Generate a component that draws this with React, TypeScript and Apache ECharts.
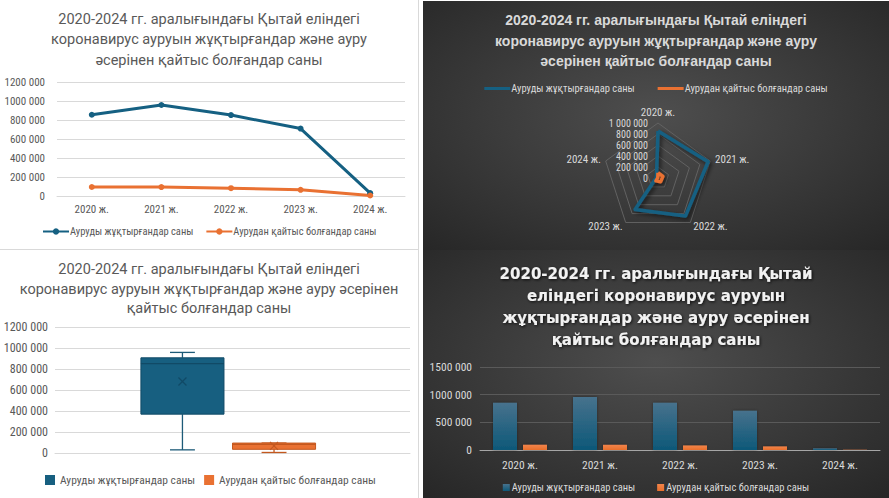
import React, { useEffect, useRef } from 'react';
import * as echarts from 'echarts';

const years = ['2020 ж.', '2021 ж.', '2022 ж.', '2023 ж.', '2024 ж.'];
const infected = [855000, 958000, 852000, 710000, 30000];
const deaths = [95000, 94000, 82000, 65000, 5000];
const nameInf = 'Ауруды жұқтырғандар саны';
const nameDeath = 'Аурудан қайтыс болғандар саны';
const titleA = '2020-2024 гг. аралығындағы Қытай еліндегі\nкоронавирус ауруын жұқтырғандар және ауру\nәсерінен қайтыс болғандар саны';
const titleB = '2020-2024 гг. аралығындағы Қытай еліндегі\nкоронавирус ауруын жұқтырғандар және ауру әсерінен\nқайтыс болғандар саны';
const titleD = '2020-2024 гг. аралығындағы Қытай\nеліндегі коронавирус ауруын\nжұқтырғандар және ауру әсерінен\nқайтыс болғандар саны';

const BLUE = '#156082';
const ORANGE = '#E97132';
const TFONT = 'Roboto, "Noto Sans", sans-serif';
const NFONT = '"Liberation Sans Narrow", "Roboto Condensed", Roboto, sans-serif';

const fmtTight = (v: number) => {
  const s = String(v);
  return s.length > 3 ? s.slice(0, -3) + ' ' + s.slice(-3) : s;
};
const fmtFull = (v: number) => String(v).replace(/\B(?=(\d{3})+(?!\d))/g, ' ');

// Excel exclusive quartiles
function quart(sorted: number[], p: number) {
  const n = sorted.length;
  const pos = p * (n + 1);
  const lo = Math.floor(pos);
  const frac = pos - lo;
  const a = sorted[Math.max(0, Math.min(n - 1, lo - 1))];
  const b = sorted[Math.max(0, Math.min(n - 1, lo))];
  return a + (b - a) * frac;
}
function stats(values: number[]) {
  const s = [...values].sort((a, b) => a - b);
  const mean = s.reduce((a, b) => a + b, 0) / s.length;
  return [s[0], quart(s, 0.25), quart(s, 0.5), quart(s, 0.75), s[s.length - 1], mean];
}

function Chart({ option, style }: { option: any; style: React.CSSProperties }) {
  const ref = useRef<HTMLDivElement>(null);
  useEffect(() => {
    const c = echarts.init(ref.current!, null, { renderer: 'svg' });
    c.setOption(option);
    return () => c.dispose();
  }, []);
  return <div ref={ref} style={{ position: 'absolute', ...style }} />;
}

const lineOption = {
  animation: false,
  backgroundColor: '#ffffff',
  title: {
    text: titleA, left: 'center', top: 4,
    textStyle: { fontFamily: TFONT, fontSize: 14.5, fontWeight: 'normal', color: '#595959', lineHeight: 20.5 },
  },
  grid: { left: 57, right: 13, top: 82, bottom: 53 },
  xAxis: {
    type: 'category', data: years, boundaryGap: true,
    axisLine: { lineStyle: { color: '#d9d9d9' } }, axisTick: { show: false },
    axisLabel: { color: '#595959', fontSize: 11, margin: 8, fontFamily: NFONT },
  },
  yAxis: {
    type: 'value', min: 0, max: 1200000, interval: 200000,
    axisLabel: { color: '#595959', fontSize: 11, margin: 12, formatter: fmtTight, fontFamily: NFONT },
    splitLine: { lineStyle: { color: '#d9d9d9' } },
  },
  legend: {
    left: 42, top: 226, padding: 0, itemGap: 12, itemWidth: 26, itemHeight: 8,
    textStyle: { color: '#595959', fontSize: 10.5, fontFamily: NFONT, padding: [0, 0, 0, -4] },
    data: [nameInf, nameDeath],
  },
  series: [
    { type: 'line', name: nameInf, data: infected, symbol: 'circle', symbolSize: 6, itemStyle: { color: BLUE }, lineStyle: { color: BLUE, width: 3 } },
    { type: 'line', name: nameDeath, data: deaths, symbol: 'circle', symbolSize: 6, itemStyle: { color: ORANGE }, lineStyle: { color: ORANGE, width: 3 } },
  ],
};

const boxSeries = (name: string, values: number[], color: string, border: string, whisker: string, offset: number) => ({
  type: 'custom', name, itemStyle: { color },
  encode: { x: 0, y: [1, 2, 3, 4, 5, 6] },
  data: [[0, ...stats(values)]],
  renderItem: (params: any, api: any) => {
    const band = api.size([1, 0])[0];
    const c = api.coord([api.value(0), 0])[0] + band * offset;
    const w = band * 0.234;
    const cap = w * 0.3;
    const y = (i: number) => api.coord([api.value(0), api.value(i)])[1];
    const yMin = y(1), yQ1 = y(2), yMed = y(3), yQ3 = y(4), yMax = y(5), yMean = y(6);
    const ls = { stroke: whisker, lineWidth: 1.3 };
    const ms = { stroke: border, lineWidth: 1.2 };
    return {
      type: 'group', children: [
        { type: 'line', shape: { x1: c, y1: yMax, x2: c, y2: yQ3 }, style: ls },
        { type: 'line', shape: { x1: c, y1: yQ1, x2: c, y2: yMin }, style: ls },
        { type: 'line', shape: { x1: c - cap / 2, y1: yMax, x2: c + cap / 2, y2: yMax }, style: ls },
        { type: 'line', shape: { x1: c - cap / 2, y1: yMin, x2: c + cap / 2, y2: yMin }, style: ls },
        { type: 'rect', shape: { x: c - w / 2, y: yQ3, width: w, height: yQ1 - yQ3 }, style: { fill: color, stroke: border, lineWidth: 1 } },
        { type: 'line', shape: { x1: c - w / 2, y1: yMed, x2: c + w / 2, y2: yMed }, style: { stroke: border, lineWidth: 1.3 } },
        { type: 'line', shape: { x1: c - 4, y1: yMean - 4, x2: c + 4, y2: yMean + 4 }, style: ms },
        { type: 'line', shape: { x1: c - 4, y1: yMean + 4, x2: c + 4, y2: yMean - 4 }, style: ms },
      ],
    };
  },
});

const boxOption = {
  animation: false,
  backgroundColor: '#ffffff',
  title: {
    text: titleB, left: 'center', top: 5,
    textStyle: { fontFamily: TFONT, fontSize: 14.5, fontWeight: 'normal', color: '#595959', lineHeight: 19.5 },
  },
  grid: { left: 55, right: 8, top: 77, bottom: 45 },
  xAxis: {
    type: 'category', data: [''],
    axisLine: { lineStyle: { color: '#d9d9d9' } }, axisTick: { show: false }, axisLabel: { show: false },
  },
  yAxis: {
    type: 'value', min: 0, max: 1200000, interval: 200000,
    axisLabel: { color: '#595959', fontSize: 12, margin: 7, formatter: fmtTight, fontFamily: NFONT },
    splitLine: { lineStyle: { color: '#d9d9d9' } },
  },
  legend: {
    left: 45, top: 224, padding: 0, itemGap: 9, itemWidth: 10, itemHeight: 10, icon: 'rect',
    textStyle: { color: '#595959', fontSize: 11.5, fontFamily: NFONT },
    data: [nameInf, nameDeath],
  },
  series: [
    boxSeries(nameInf, infected, '#175f80', '#114a66', '#1d5b78', -0.141),
    boxSeries(nameDeath, deaths, ORANGE, '#c3581f', '#c3581f', 0.117),
  ],
};

const darkBg = (w: number, h: number, cy: number) => ([{
  type: 'rect', z: -100, silent: true,
  shape: { x: 0, y: 0, width: w, height: h },
  style: {
    fill: new echarts.graphic.RadialGradient(0.5, cy, 0.75, [
      { offset: 0, color: '#4e4e4e' },
      { offset: 1, color: '#262626' },
    ]),
  },
}]);

const radarOrder = [0, 4, 3, 2, 1];

const radarOption = {
  animation: false,
  graphic: darkBg(466, 250, 0.45),
  title: {
    text: titleA, left: 'center', top: 4,
    textStyle: { fontFamily: '"Liberation Sans", Arial, sans-serif', fontSize: 14, fontWeight: 'bold', color: '#d9d9d9', lineHeight: 20.5 },
  },
  legend: {
    left: 'center', top: 82, padding: 0, itemGap: 23, itemWidth: 26, itemHeight: 3, icon: 'rect',
    textStyle: { color: '#d9d9d9', fontSize: 10.5, fontFamily: NFONT, padding: [0, 0, 0, -4] },
    data: [nameInf, nameDeath],
  },
  radar: {
    center: [235, 177], radius: 55, startAngle: 90, splitNumber: 5,
    indicator: radarOrder.map((i) => ({ name: years[i], min: 0, max: 1000000 })),
    axisName: { color: '#d9d9d9', fontSize: 11, fontFamily: NFONT },
    nameGap: 5,
    splitLine: { lineStyle: { color: '#626262', width: 1 } },
    splitArea: { show: false },
    axisLine: { show: false },
    axisTick: { show: false },
  },
  grid: { left: 235, top: 122, width: 1, height: 55 },
  xAxis: { type: 'value', show: false, min: 0, max: 1 },
  yAxis: {
    type: 'value', min: 0, max: 1000000, interval: 200000,
    axisLine: { show: false }, axisTick: { show: false }, splitLine: { show: false },
    axisLabel: { color: '#d9d9d9', fontSize: 10, lineHeight: 10, margin: 10, formatter: fmtFull, fontFamily: NFONT },
  },
  series: [{
    type: 'radar', symbol: 'none',
    data: [
      { name: nameInf, value: radarOrder.map((i) => infected[i]), itemStyle: { color: BLUE },
        lineStyle: { color: BLUE, width: 3.5, shadowColor: 'rgba(0,0,0,0.6)', shadowBlur: 4, shadowOffsetX: 2, shadowOffsetY: 2 } },
      { name: nameDeath, value: radarOrder.map((i) => deaths[i]), itemStyle: { color: ORANGE },
        lineStyle: { color: ORANGE, width: 3.5, shadowColor: 'rgba(0,0,0,0.6)', shadowBlur: 4, shadowOffsetX: 2, shadowOffsetY: 2 } },
    ],
  }],
};

const barOption = {
  animation: false,
  graphic: darkBg(466, 248, 0.45),
  title: {
    text: titleD, left: 'center', top: 8,
    textStyle: {
      fontFamily: '"DejaVu Sans", sans-serif', fontSize: 15, fontWeight: 'bold', color: '#f2f2f2', lineHeight: 22,
      textShadowColor: 'rgba(0,0,0,0.8)', textShadowBlur: 3, textShadowOffsetX: 1, textShadowOffsetY: 1,
    },
  },
  grid: { left: 57, right: 9, top: 117, bottom: 48 },
  xAxis: {
    type: 'category', data: years,
    axisLine: { lineStyle: { color: '#a6a6a6' } }, axisTick: { show: false },
    axisLabel: { color: '#d9d9d9', fontSize: 11.5, margin: 9, fontFamily: NFONT },
  },
  yAxis: {
    type: 'value', min: 0, max: 1500000, interval: 500000,
    axisLabel: { color: '#d9d9d9', fontSize: 11.5, margin: 8, formatter: fmtTight, fontFamily: NFONT },
    splitLine: { lineStyle: { color: '#5a5a5a' } },
  },
  legend: {
    left: 'center', top: 232, padding: 0, itemGap: 22, itemWidth: 7, itemHeight: 7, icon: 'rect',
    textStyle: { color: '#d9d9d9', fontSize: 10.5, fontFamily: NFONT, padding: [0, 0, 0, -3] },
    data: [nameInf, nameDeath],
  },
  series: [
    {
      type: 'bar', name: nameInf, data: infected, barWidth: 24, barGap: '25%',
      itemStyle: {
        color: new echarts.graphic.LinearGradient(0, 0, 0, 1, [
          { offset: 0, color: '#47728d' }, { offset: 1, color: '#0d5878' },
        ]),
        shadowColor: 'rgba(0,0,0,0.4)', shadowBlur: 3,
      },
    },
    {
      type: 'bar', name: nameDeath, data: deaths, barWidth: 24,
      itemStyle: {
        color: new echarts.graphic.LinearGradient(0, 0, 0, 1, [
          { offset: 0, color: '#f2844a' }, { offset: 1, color: '#e86f2c' },
        ]),
        shadowColor: 'rgba(0,0,0,0.4)', shadowBlur: 3,
      },
    },
  ],
};

export default function App() {
  return (
    <div style={{ position: 'fixed', left: 0, top: 0, width: 889, height: 498, background: '#fff', overflow: 'hidden' }}>
      <Chart option={lineOption} style={{ left: 0, top: 0, width: 418, height: 249 }} />
      <Chart option={boxOption} style={{ left: 0, top: 250, width: 418, height: 248 }} />
      <Chart option={radarOption} style={{ left: 423, top: 1, width: 466, height: 250 }} />
      <Chart option={barOption} style={{ left: 423, top: 250, width: 466, height: 248 }} />
      <div style={{ position: 'absolute', left: 418, top: 0, width: 1, height: 498, background: '#d9d9d9' }} />
      <div style={{ position: 'absolute', left: 0, top: 249, width: 418, height: 1, background: '#d9d9d9' }} />
    </div>
  );
}
